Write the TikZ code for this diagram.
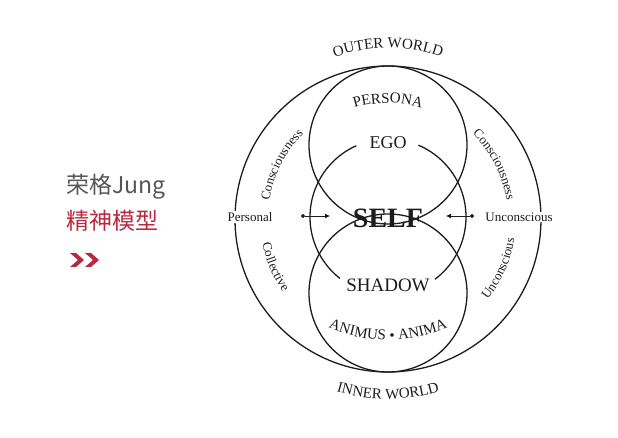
\documentclass[tikz,border=0pt]{standalone}
\usepackage{fontspec}
\setmainfont{Liberation Serif}
\newfontfamily\cjk{Noto Sans CJK SC}
\usetikzlibrary{arrows.meta,decorations.text}
\definecolor{jungred}{HTML}{B8283F}
\definecolor{junggray}{HTML}{555555}
\definecolor{ink}{HTML}{1C1C1C}
\newcommand{\fs}[1]{\fontsize{#1}{#1}\selectfont}
\tikzset{
  ring/.style={draw=ink, line width=1.3pt},
  arcword/.style={decorate, decoration={text along path, text align=center, text={#1}}},
  side/.style={font=\fs{13}, text=ink, fill=white, inner sep=1pt},
  pointer/.style={draw=ink, line width=0.8pt, {Circle[length=4pt]}-{Latex[length=5pt,width=5pt]}},
}

\begin{document}
\begin{tikzpicture}[x=1pt,y=1pt]
    \useasboundingbox (0,0) rectangle (618,-438);
    \coordinate (c) at (388,-219);
    \draw[ring] (c) circle[radius=153];
    \draw[ring] (388,-145) circle[radius=79];
    \draw[ring] (388,-293) circle[radius=79];
    \draw[ring] (388,-217) ++(114:78) arc[start angle=114, end angle=232, radius=78];
    \draw[ring] (388,-217) ++(-53:78) arc[start angle=-53, end angle=67, radius=78];
    \path[arcword={|\fs{15}\color{ink}|OUTER WORLD}] (388,-208) ++(120:160) arc[start angle=120, end angle=60, radius=160];
    \path[arcword={|\fs{15}\color{ink}|PERSONA}] (c) ++(125:116) arc[start angle=125, end angle=55, radius=116];
    \path[arcword={|\fs{15}\color{ink}|ANIMUS • ANIMA}] (388,-190) ++(245:150) arc[start angle=245, end angle=295, radius=150];
    \path[arcword={|\fs{15}\color{ink}|INNER WORLD}] (c) ++(250:180) arc[start angle=250, end angle=290, radius=180];
    \path[arcword={|\fs{13}\color{ink}|Consciousness}] (c) ++(178:120) arc[start angle=178, end angle=128, radius=120];
    \path[arcword={|\fs{13}\color{ink}|Consciousness}] (c) ++(52:120) arc[start angle=52, end angle=2, radius=120];
    \path[arcword={|\fs{13}\color{ink}|Collective}] (c) ++(183:128) arc[start angle=183, end angle=223, radius=128];
    \path[arcword={|\fs{13}\color{ink}|Unconscious}] (c) ++(-44:128) arc[start angle=-44, end angle=-4, radius=128];
    \node[text=ink] (ego) at (388,-143) {\fs{18}EGO};
    \node[text=ink] (self) at (388,-218) {\fs{28}\bfseries SELF};
    \node[text=ink] (shadow) at (388,-285) {\fs{19}SHADOW};
    \node[side] (personal) at (250,-217) {Personal};
    \node[side] (unconscious) at (519,-217) {Unconscious};
    \coordinate (pdot) at (301,-216);
    \coordinate (ptip) at (330,-216);
    \coordinate (udot) at (474,-216);
    \coordinate (utip) at (446,-216);
    \draw[pointer] (pdot) -- (ptip);
    \draw[pointer] (udot) -- (utip);
    \node[anchor=west, inner sep=0pt, text=junggray, font=\cjk\fs{23}] (title) at (66,-187) {荣格Jung};
    \node[anchor=west, inner sep=0pt, text=jungred, font=\cjk\fs{23}] (subtitle) at (66,-221) {精神模型};
    \foreach \x in {70,85}
    \fill[jungred] (\x,-253) -- ++(6,0) -- ++(8,-7) -- ++(-8,-7) -- ++(-6,0) -- ++(8,7) -- cycle;
\end{tikzpicture}
\end{document}
